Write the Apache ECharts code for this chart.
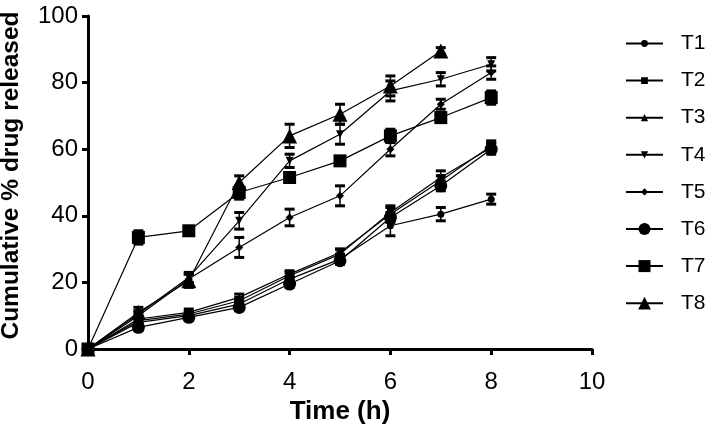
<!DOCTYPE html>
<html>
<head>
<meta charset="utf-8">
<script src="https://cdn.jsdelivr.net/npm/echarts@6/dist/echarts.min.js"></script>
<style>html,body{margin:0;padding:0;background:#fff}#c{width:712px;height:428px}</style>
</head>
<body>
<div id="c"></div>
<script>
const timeH = [0, 1, 2, 3, 4, 5, 6, 7, 8];
const T1 = [0, 8, 10, 13.5, 21, 27, 37, 40.5, 45];
const T2 = [0, 8.5, 10.5, 14.5, 22, 28.5, 41, 51.5, 60.5];
const T3 = [0, 9, 11, 15.5, 22.5, 29, 40.5, 50.5, 61];
const T4 = [0, 10.5, 21.5, 38.5, 56.5, 64.5, 77.5, 81, 85.5];
const T5 = [0, 10, 21, 30.5, 39.5, 46, 60, 73.5, 83];
const T6 = [0, 6.5, 9.5, 12.5, 19.5, 26.5, 39.5, 49, 60];
const T7 = [0, 33.5, 35.5, 47, 51.5, 56.5, 64, 69.5, 75.5];
const T8 = [0, 11, 20.5, 50, 64, 70.5, 79, 89.5];

const E1 = [0, 1, 1, 1, 1, 1.5, 3, 2, 1.5];
const E2 = [0, 1, 1, 1, 1, 1.5, 2, 2, 1.5];
const E3 = [0, 1, 1, 1, 1, 1, 2, 1.5, 1.5];
const E4 = [0, 1, 1.5, 2.5, 2, 3, 3, 2, 2];
const E5 = [0, 1, 1.5, 3, 2.5, 3, 2, 1.5, 2];
const E6 = [0, 1, 1, 1, 1, 1, 1.5, 1.5, 1.5];
const E7 = [0, 2, 1, 2, 1.5, 1, 2, 1.5, 2];
const E8 = [0, 1.5, 2, 2, 3.5, 3, 3, 1];

const names = ['T1','T2','T3','T4','T5','T6','T7','T8'];
const values = [T1,T2,T3,T4,T5,T6,T7,T8];
const errors = [E1,E2,E3,E4,E5,E6,E7,E8];
const symbols = ['circle','rect','triangle','path://M0,0 L10,0 L5,10 Z','diamond','circle','rect','triangle'];
const sizes = [7,7,8,8,8,13,13,15];
const legendH = [8.5,8.5,9,9,9,15,15,16];

const FONT = 'Liberation Sans, Arial, sans-serif';
const series = [];
values.forEach((vals, i) => {
  series.push({
    name: names[i], type: 'line',
    data: vals.map((v, k) => [timeH[k], v]),
    symbol: symbols[i], symbolSize: sizes[i],
    lineStyle: {color: '#000', width: 1.2},
    itemStyle: {color: '#000'},
    z: 3, animation: false
  });
  series.push({
    name: names[i] + '_err', type: 'custom',
    data: vals.map((v, k) => [timeH[k], v - errors[i][k], v + errors[i][k]]),
    renderItem: function (params, api) {
      const lo = api.coord([api.value(0), api.value(1)]);
      const hi = api.coord([api.value(0), api.value(2)]);
      const hw = 5;
      const st = {stroke: '#000', lineWidth: 1.5};
      const cap = {stroke: '#000', lineWidth: 3};
      return {type: 'group', children: [
        {type: 'line', shape: {x1: lo[0], y1: lo[1], x2: hi[0], y2: hi[1]}, style: st},
        {type: 'line', shape: {x1: lo[0]-hw, y1: lo[1], x2: lo[0]+hw, y2: lo[1]}, style: cap},
        {type: 'line', shape: {x1: hi[0]-hw, y1: hi[1], x2: hi[0]+hw, y2: hi[1]}, style: cap}
      ]};
    },
    z: 2, animation: false
  });
});

const legends = names.map((n, i) => ({
  data: [n], orient: 'vertical', left: 625,
  top: 45 + i * 37.1 - 12,
  height: 24,
  itemWidth: 37, itemHeight: legendH[i], padding: 0,
  textStyle: {fontFamily: FONT, fontSize: 21, color: '#000', padding: [0,0,0,13]}
}));

const chart = echarts.init(document.getElementById('c'));
chart.setOption({
  animation: false,
  backgroundColor: '#fff',
  grid: {left: 88, right: 120, top: 16, bottom: 79, containLabel: false, outerBoundsMode: 'none'},
  xAxis: {
    type: 'value', min: 0, max: 10, interval: 2,
    name: 'Time (h)', nameLocation: 'middle', nameGap: 50,
    nameTextStyle: {fontFamily: FONT, fontWeight: 'bold', fontSize: 26, color: '#000'},
    axisLine: {lineStyle: {color: '#000', width: 3}},
    axisTick: {lineStyle: {color: '#000', width: 3}, length: 6},
    axisLabel: {fontFamily: FONT, fontSize: 24, color: '#000', margin: 21},
    splitLine: {show: false}
  },
  yAxis: {
    type: 'value', min: 0, max: 100, interval: 20,
    name: 'Cumulative % drug released', nameLocation: 'middle', nameGap: 64,
    nameTextStyle: {fontFamily: FONT, fontWeight: 'bold', fontSize: 24.5, color: '#000', padding: [0, 0, 0, 14]},
    axisLine: {lineStyle: {color: '#000', width: 3}},
    axisTick: {lineStyle: {color: '#000', width: 3}, length: 6},
    axisLabel: {fontFamily: FONT, fontSize: 24, color: '#000', margin: 10},
    splitLine: {show: false}
  },
  legend: legends,
  series: series
});
</script>
</body>
</html>
